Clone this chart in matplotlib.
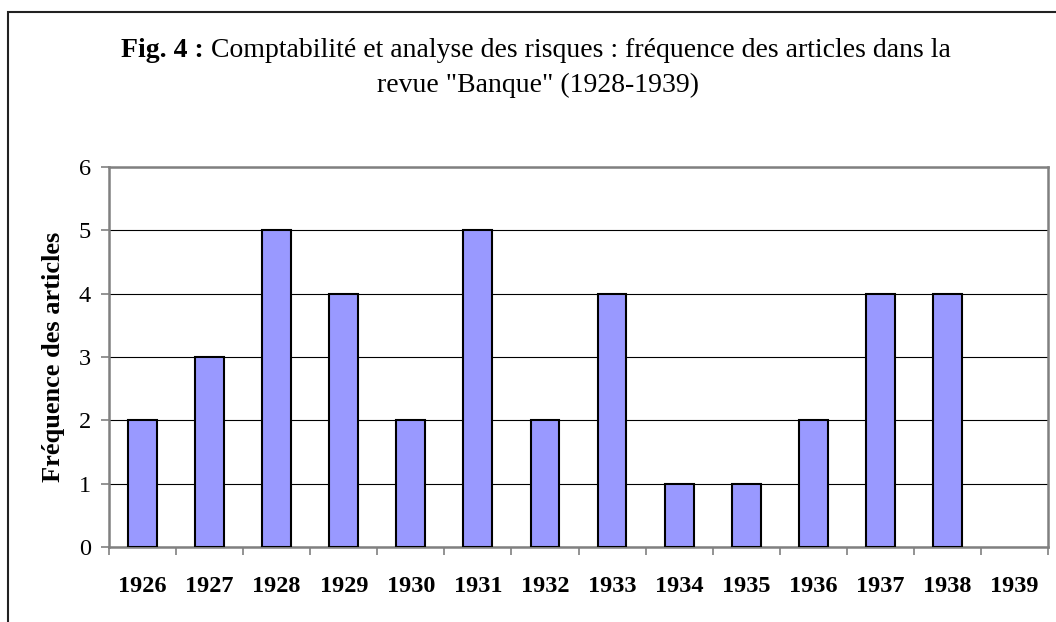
import matplotlib

matplotlib.use("Agg")

import matplotlib.pyplot as plt
import numpy as np
from matplotlib.patches import Rectangle
from matplotlib.ticker import FixedLocator

YEARS = ["1926", "1927", "1928", "1929", "1930", "1931", "1932",
         "1933", "1934", "1935", "1936", "1937", "1938", "1939"]
ARTICLES = [2, 3, 5, 4, 2, 5, 2, 4, 1, 1, 2, 4, 4, 0]

TITLE_BOLD = "Fig. 4 : "
TITLE_1 = "Comptabilité et analyse des risques : fréquence des articles dans la"
TITLE_2 = 'revue "Banque" (1928-1939)'

BAR_COLOR = "#9999FF"
FRAME = "#808080"
W, H = 1056, 622

plt.rcParams.update({
    "font.family": ["Liberation Serif", "DejaVu Serif"],
    "font.size": 17.5,
})

fig = plt.figure(figsize=(W / 100, H / 100), dpi=100)
ax = fig.add_axes([109 / W, 1 - 547 / H, 939 / W, 380 / H])

x = np.arange(len(YEARS))
# excel leaves empty (zero) bars undrawn, so no edge on those
lw = [1.5 if v else 0 for v in ARTICLES]
ax.bar(x, ARTICLES, width=0.43, color=BAR_COLOR, edgecolor="black",
       linewidth=lw, zorder=3)

ax.set_xlim(-0.5, len(YEARS) - 0.5)
ax.set_ylim(0, 6)
ax.set_yticks(range(7))
ax.yaxis.grid(True, color="black", linewidth=0.8, zorder=0)
ax.set_axisbelow(True)

ax.set_xticks(x, YEARS, fontweight="bold")
ax.tick_params(axis="x", which="major", length=0, pad=21)
ax.xaxis.set_minor_locator(FixedLocator(np.arange(-0.5, len(YEARS), 1.0)))
ax.tick_params(axis="x", which="minor", length=6, width=1.2, color=FRAME,
               direction="out")
ax.tick_params(axis="y", length=6, width=1.2, color=FRAME, direction="out",
               pad=7)

for sp in ax.spines.values():
    sp.set_color(FRAME)
    sp.set_linewidth(1.8)

ax.set_ylabel("Fréquence des articles", fontweight="bold", fontsize=19,
              labelpad=10)

# title: bold prefix + regular text, centred together on one line
prefix = fig.text(0, 1 - 57 / H, TITLE_BOLD, ha="left", va="baseline",
                  fontsize=20, fontweight="bold")
t1 = fig.text(0, 1 - 57 / H, TITLE_1, ha="left", va="baseline", fontsize=20)
fig.canvas.draw()
r = fig.canvas.get_renderer()
wp = prefix.get_window_extent(r).width
wt = t1.get_window_extent(r).width
x0 = 536 - (wp + wt) / 2
prefix.set_x(x0 / W)
t1.set_x((x0 + wp) / W)
fig.text(538 / W, 1 - 92 / H, TITLE_2, ha="center", va="baseline",
         fontsize=20)

# chart-area border (runs off the right and bottom edges in the original)
fig.patches.append(Rectangle((8 / W, -0.1), 1.2, 1 - 12 / H + 0.1,
                             transform=fig.transFigure, fill=False,
                             edgecolor="#222222", linewidth=1.5))

fig.savefig("out.png", dpi=100)
